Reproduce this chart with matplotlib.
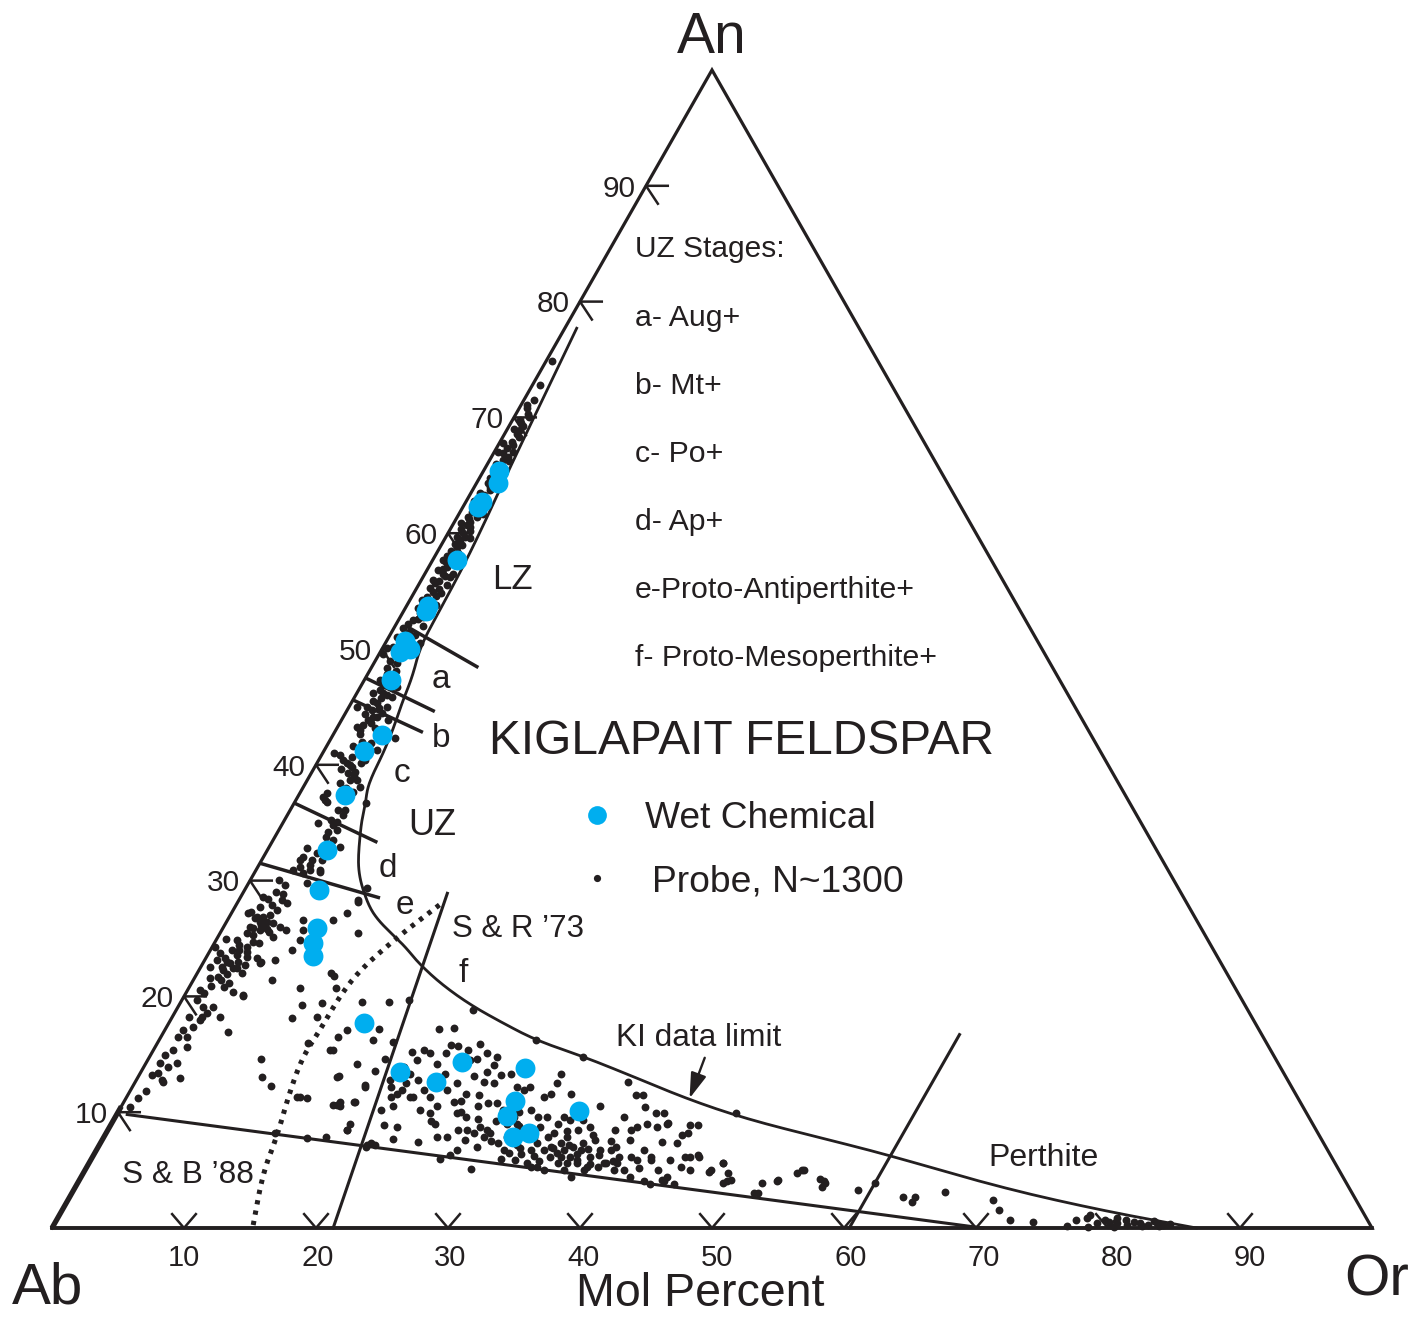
import numpy as np
import matplotlib
matplotlib.use("Agg")
import matplotlib.pyplot as plt

plt.rcParams['font.family'] = ['Liberation Sans', 'DejaVu Sans']

INK = '#231f20'
BLUE = '#00aeef'

# ---------------- data (An, Or) in mol percent ----------------
wet_chemical = [(65.4, 1.2), (64.3, 1.6), (62.7, 1.2), (62.3, 1.1), (57.7, 1.8), (53.7, 1.6),
                (53.3, 1.7), (50.7, 1.4), (50.0, 2.1), (49.7, 1.5), (47.3, 2.0), (42.6, 3.7),
                (41.2, 3.0), (37.4, 3.5), (32.6, 4.5), (29.2, 5.6), (25.9, 7.1), (24.6, 7.5),
                (23.5, 8.0), (17.7, 14.8), (13.5, 19.6), (12.6, 22.8), (14.3, 23.9), (13.8, 28.9),
                (11.0, 29.6), (9.7, 29.6), (7.9, 31.0), (8.2, 32.0), (10.1, 34.9)]

probe_band_upper = [(74.9, 0.4), (72.8, 0.6), (71.1, 0.45), (69.8, 0.55), (69.3, 1.0), (68.6, 0.9),
                    (67.9, 0.9), (68.9, 1.0), (67.4, 0.75), (66.6, 1.25), (66.3, 1.0), (67.0, 1.4),
                    (65.5, 1.6), (64.8, 0.75), (64.3, 0.9), (63.1, 0.9), (62.2, 1.1), (61.8, 0.9),
                    (61.4, 0.8), (61.4, 1.5), (60.5, 1.4), (60.4, 0.8), (59.7, 0.85), (59.7, 1.45),
                    (59.1, 0.95), (59.0, 1.55), (59.6, 1.85), (58.5, 1.0), (58.3, 1.6), (57.1, 1.4),
                    (56.5, 1.35), (56.2, 2.05), (55.9, 1.4), (55.7, 1.15), (55.5, 2.15), (54.9, 1.4),
                    (55.3, 0.95), (54.8, 2.1), (54.5, 1.15), (53.1, 1.3), (52.5, 1.1), (52.2, 0.85),
                    (51.8, 0.7), (52.0, 2.1), (51.0, 0.6), (50.5, 2.6), (67.8, 0.3), (67.0, 0.25),
                    (61.7, 1.8), (63.7, 1.3), (64.6, 1.4), (60.9, 0.5), (57.7, 0.8), (56.8, 0.85),
                    (56.5, 2.1), (49.6, 0.3), (49.0, 1.1), (48.4, 1.15), (48.8, 1.7), (50.2, 0.7),
                    (50.1, 0.3), (62.8, 0.6), (61.0, 1.2), (60.0, 1.1), (58.0, 1.3), (57.5, 1.1),
                    (56.0, 0.9), (54.0, 1.6), (53.5, 1.0), (53.8, 2.2), (52.8, 1.7), (70.3, 0.9),
                    (69.0, 0.5), (66.0, 0.6), (63.5, 0.7), (71.5, 0.8), (70.8, 0.6), (70.0, 1.1),
                    (69.5, 0.8), (68.3, 1.2), (67.6, 1.1), (66.9, 0.7), (66.2, 1.5), (65.8, 1.1),
                    (65.0, 1.0), (64.0, 1.2), (63.3, 1.1), (62.5, 0.9), (61.9, 1.4), (61.2, 1.0),
                    (60.7, 1.1), (60.2, 1.6), (59.4, 1.2), (58.8, 1.3), (58.0, 0.9), (57.4, 1.5),
                    (56.9, 1.2), (56.3, 1.6), (55.2, 1.7), (54.6, 1.8), (54.2, 0.9), (53.6, 1.4),
                    (53.0, 1.9), (52.6, 1.4), (51.5, 1.3), (51.2, 1.9), (50.8, 1.0)]

probe_band_mid = [(45.0, 1.35), (44.7, 1.9), (45.3, 2.0), (45.8, 2.0), (46.2, 2.0), (44.1, 2.3),
                  (43.9, 2.0), (43.4, 1.85), (43.0, 1.85), (43.25, 1.5), (45.0, 2.9), (45.85, 2.8),
                  (46.7, 2.8), (46.45, 1.6), (46.2, 1.2), (44.1, 2.6), (45.0, 0.6), (43.85, 3.5),
                  (44.45, 2.8), (40.15, 2.3), (39.8, 2.8), (39.4, 3.25), (39.3, 2.8), (38.7, 3.2),
                  (38.7, 3.75), (40.4, 1.85), (40.15, 3.3), (40.85, 1.4), (40.4, 3.5), (41.0, 0.9),
                  (36.95, 2.2), (37.6, 2.0), (36.1, 4.15), (36.7, 5.4), (38.1, 4.3), (37.65, 4.0),
                  (41.3, 4.0), (42.3, 4.8), (47.0, 2.4), (47.8, 1.5), (42.0, 2.5), (41.6, 2.0),
                  (49.4, 1.4), (48.1, 2.0), (47.3, 1.2), (46.9, 1.8), (46.0, 2.4), (45.5, 1.6),
                  (44.9, 2.3), (44.4, 1.5), (43.6, 2.4), (43.2, 2.9), (42.7, 2.0), (41.9, 3.2),
                  (41.4, 2.7), (40.7, 2.4), (40.0, 2.6), (39.6, 2.1), (39.0, 3.4), (38.4, 2.6),
                  (38.0, 3.3)]

probe_band_low = [(35.2, 3.5), (34.8, 3.9), (34.4, 4.4), (34.2, 3.8), (35.05, 4.1), (33.5, 4.5),
                  (33.75, 3.9), (32.9, 4.1), (32.4, 3.9), (32.8, 2.9), (32.0, 3.0), (31.8, 3.8),
                  (31.2, 3.2), (30.9, 4.85), (30.9, 4.1), (31.8, 4.55), (30.9, 2.8), (36.1, 3.6),
                  (35.7, 4.2), (35.0, 2.65), (32.9, 5.4), (37.2, 1.9), (36.8, 2.4), (36.95, 3.6),
                  (29.4, 9.2), (28.3, 9.0)]

probe_band_20_30 = [(30.05, 2.2), (29.6, 2.85), (31.8, 2.9), (30.65, 3.7), (31.35, 3.9), (30.75, 4.9),
                    (29.8, 4.4), (28.6, 1.7), (28.3, 3.3), (28.05, 3.8), (27.3, 1.4), (26.85, 2.1),
                    (26.4, 3.1), (26.0, 4.3), (25.7, 4.9), (26.6, 5.7), (25.7, 6.2), (24.85, 6.35),
                    (24.0, 6.2), (23.15, 5.3), (25.1, 4.2), (25.7, 2.9), (25.5, 2.0), (24.7, 2.9),
                    (24.85, 1.6), (24.0, 2.2), (23.4, 3.1), (22.95, 1.8), (22.45, 2.5), (22.3, 1.8),
                    (21.7, 1.7), (21.6, 1.2), (21.15, 2.8), (20.4, 3.5), (20.0, 4.5), (23.3, 3.9),
                    (22.9, 4.3), (25.0, 0.7), (26.0, 2.0), (27.45, 3.3), (27.2, 1.25), (26.75, 2.0),
                    (26.4, 2.55), (26.0, 3.1), (25.55, 3.7), (25.9, 2.3), (26.85, 2.55), (26.35, 3.6),
                    (24.25, 0.2), (23.75, 0.85), (23.3, 1.45), (22.9, 2.0), (22.45, 2.8), (22.0, 3.4),
                    (23.15, 0.95), (22.5, 0.7), (22.5, 1.6), (24.0, 1.6), (24.4, 2.0), (29.0, 2.5),
                    (28.8, 3.1), (28.4, 2.2), (27.9, 2.7), (27.7, 1.9), (27.0, 3.0), (26.2, 2.7),
                    (25.8, 3.4), (25.3, 2.6), (24.6, 3.4), (24.3, 2.6), (23.8, 2.9), (23.6, 2.2),
                    (23.0, 2.6), (22.7, 3.3), (21.9, 2.3), (21.4, 2.1), (20.9, 1.6), (20.3, 1.4),
                    (20.8, 2.6)]

probe_band_10_20 = [(20.55, 0.9), (19.7, 1.1), (19.1, 1.9), (18.2, 1.3), (17.1, 1.4), (16.5, 1.3),
                    (15.6, 2.4), (15.4, 1.5), (14.95, 1.1), (14.25, 1.05), (13.9, 1.8), (13.4, 1.3),
                    (12.8, 1.9), (13.2, 1.0), (14.25, 2.35), (16.5, 2.0), (17.35, 2.0), (17.95, 2.2),
                    (18.55, 2.5), (19.1, 2.65), (12.6, 2.1), (10.45, 0.7), (12.95, 3.2), (18.2, 2.3),
                    (18.2, 3.6), (16.9, 4.9), (20.1, 4.4), (11.8, 1.2), (11.2, 0.9)]

probe_field = [(28.15, 9.1), (27.2, 8.75), (26.6, 8.0), (25.5, 10.4), (22.0, 10.1), (20.7, 8.4),
               (21.4, 6.0), (23.0, 4.3), (20.7, 11.2), (19.25, 9.3), (19.45, 10.7), (18.1, 9.1),
               (18.2, 11.0), (16.5, 13.4), (16.0, 11.4), (15.35, 13.4), (14.6, 8.5), (13.05, 9.4),
               (13.05, 15.1), (17.1, 13.8), (11.3, 13.1), (12.25, 10.5), (11.3, 12.9), (11.25, 13.7),
               (10.6, 16.0), (10.9, 16.4), (7.8, 15.4), (7.85, 16.8), (8.2, 12.8), (12.35, 17.5),
               (10.9, 17.4), (8.45, 18.1), (7.15, 20.3), (7.15, 20.9)]

probe_central = [(21.8, 10.5), (15.4, 13.6), (13.1, 15.2), (10.6, 16.3), (8.5, 18.1), (19.5, 13.7),
                 (19.5, 15.8), (19.7, 17.2), (17.2, 20.7), (17.3, 21.8), (17.2, 16.2), (16.2, 16.2),
                 (16.1, 17.8), (14.6, 17.9), (15.2, 19.7), (15.4, 20.5), (15.1, 21.1), (15.1, 22.3),
                 (15.8, 22.3), (15.7, 22.9), (15.4, 23.8), (14.6, 24.9), (15.9, 24.5), (15.1, 25.4),
                 (14.1, 26.4), (14.8, 26.3), (14.2, 16.0), (13.6, 17.7), (12.8, 19.2), (12.2, 19.6),
                 (11.6, 20.3), (12.5, 20.6), (12.8, 21.3), (11.3, 21.7), (11.9, 22.2), (11.3, 23.0),
                 (11.9, 24.0), (13.3, 23.1), (12.5, 24.4), (11.0, 25.5), (11.6, 25.6), (13.1, 25.4),
                 (12.6, 26.4), (13.5, 26.2), (12.5, 27.2), (13.2, 27.4), (13.3, 28.1), (12.2, 29.1),
                 (11.9, 29.8), (12.2, 30.1), (11.3, 31.6), (11.6, 32.0), (13.3, 31.9), (12.5, 32.0),
                 (11.6, 33.5), (12.2, 17.6), (10.9, 17.5), (10.5, 16.6), (10.2, 19.8), (10.5, 20.6),
                 (10.2, 22.8), (9.9, 23.7), (10.5, 23.9), (9.9, 25.7), (9.6, 26.6), (10.5, 27.0),
                 (10.8, 27.6), (10.8, 28.3), (10.2, 29.1), (10.2, 31.2), (9.6, 32.0), (9.6, 32.7),
                 (9.0, 33.8), (9.6, 34.0), (9.3, 34.6), (8.5, 35.6), (9.3, 35.6), (8.7, 36.4),
                 (10.5, 36.3), (8.5, 38.4), (9.6, 38.5), (8.5, 39.6), (8.7, 40.0), (9.0, 40.6),
                 (8.7, 41.5), (9.9, 41.4), (9.0, 42.1), (7.3, 43.7), (8.2, 44.1), (8.9, 44.5),
                 (8.7, 21.8), (7.7, 22.0), (7.4, 24.0), (9.2, 24.1), (9.0, 24.5), (8.5, 26.5),
                 (7.6, 27.5), (8.2, 27.9), (7.9, 28.8), (8.2, 29.1), (7.3, 30.1), (6.7, 30.9),
                 (7.9, 30.5), (7.0, 28.7), (6.7, 27.3), (6.0, 26.4), (6.3, 27.0), (5.1, 29.2),
                 (5.9, 32.1), (6.4, 32.3), (6.7, 32.9), (7.3, 33.1), (6.7, 33.9), (6.1, 34.7),
                 (5.6, 35.5), (6.7, 35.4), (6.1, 36.2), (5.6, 37.0), (6.7, 36.7), (6.1, 37.7),
                 (5.3, 38.7), (5.6, 39.0), (6.7, 39.0), (5.6, 40.0), (5.0, 40.8), (6.1, 40.8),
                 (5.9, 41.4), (6.7, 41.5), (6.1, 42.3), (5.0, 43.4), (4.1, 44.3), (5.9, 43.9),
                 (5.3, 45.0), (6.1, 45.3), (6.3, 45.8), (5.0, 47.4), (5.6, 48.0), (4.1, 49.1),
                 (3.0, 52.0), (4.1, 52.9), (5.0, 54.5), (4.1, 56.4), (5.3, 33.6), (5.0, 34.8),
                 (5.0, 36.3), (4.4, 37.1), (5.0, 37.8), (5.0, 40.1), (4.4, 41.6), (4.1, 42.8),
                 (3.8, 43.4), (4.4, 44.4), (3.8, 45.2), (7.3, 20.5), (7.0, 20.3), (8.9, 20.7),
                 (9.0, 18.1), (9.0, 30.7), (8.5, 31.8), (7.9, 32.6), (8.7, 32.6), (7.9, 33.6),
                 (8.2, 33.9), (7.3, 34.9), (7.9, 35.1), (7.0, 36.0), (7.3, 36.6), (7.6, 37.3),
                 (6.7, 38.2), (5.6, 33.2), (5.3, 34.1), (7.0, 34.3), (6.1, 35.5), (5.6, 36.2),
                 (6.4, 36.6), (5.3, 37.9), (9.0, 30.0), (9.6, 30.2), (8.5, 28.7), (8.7, 28.1),
                 (8.5, 27.2), (7.9, 26.0), (7.9, 25.2), (11.3, 21.5), (11.9, 20.6), (11.3, 20.0),
                 (13.3, 20.5), (13.9, 19.7), (14.5, 20.4), (14.2, 22.1), (13.9, 24.2), (14.5, 24.4),
                 (18.8, 22.5), (16.2, 28.6), (14.8, 32.8), (12.6, 37.3), (11.5, 39.0), (9.9, 46.9),
                 (7.5, 29.5), (7.2, 31.6), (6.9, 32.0), (7.7, 31.2), (6.5, 31.4), (6.2, 33.4),
                 (6.0, 31.0), (5.8, 34.0), (6.9, 34.5), (6.5, 35.0), (7.2, 35.6), (6.8, 37.2),
                 (5.9, 36.8), (6.3, 38.3), (5.5, 38.0), (5.8, 39.6), (7.0, 39.2), (7.5, 38.6),
                 (8.0, 37.0), (8.4, 34.8), (10.0, 26.0), (10.9, 25.0), (11.5, 26.6), (9.4, 27.6),
                 (9.2, 29.0), (10.0, 30.4), (8.8, 31.0)]

probe_tail = [(11.5, 38.5), (10.45, 39.7), (9.9, 40.8), (9.1, 42.1), (8.0, 43.7), (8.9, 43.9),
              (7.4, 42.5), (5.9, 42.4), (6.1, 44.9), (5.0, 45.8), (7.6, 40.0), (6.1, 39.9),
              (5.6, 39.2), (5.2, 41.9), (4.15, 44.1), (6.1, 46.0), (4.8, 47.4), (5.6, 48.0),
              (4.75, 48.8), (4.15, 49.4), (3.9, 48.9), (3.9, 51.8), (3.0, 51.7), (4.15, 52.9),
              (4.75, 54.1), (5.0, 54.3), (4.2, 56.1), (3.9, 56.6), (3.5, 56.6), (3.3, 59.4),
              (3.9, 60.4), (2.7, 63.1), (2.25, 64.0), (2.7, 64.0), (3.1, 66.1), (2.4, 70.1),
              (1.55, 71.0), (0.7, 72.2), (0.5, 74.1), (0.2, 76.8), (0.7, 77.2), (0.86, 78.0),
              (1.1, 78.1), (0.7, 79.4), (0.26, 80.0), (0.43, 80.5), (0.26, 81.3), (0.43, 82.2),
              (0.26, 82.9), (0.43, 83.5), (0.26, 84.0), (0.35, 84.5), (0.1, 78.4), (0.1, 80.4),
              (0.5, 79.8), (0.7, 81.0), (0.5, 81.7), (0.2, 82.5), (0.6, 83.2), (0.2, 83.8),
              (0.4, 79.0), (0.9, 80.2)]

# boundary lines (An, Or)
ki_limit_an = [77.7, 72.6, 65.2, 61.1, 57.1, 53.1, 50.2, 47.6, 45.6, 43.6, 42.4, 40.85, 39.3, 38.0,
               36.7, 35.4, 34.1, 32.0, 30.7, 29.4, 27.7, 26.6, 25.5, 24.3, 22.9, 21.1, 19.3, 17.7,
               16.2, 14.8, 13.3, 11.05, 9.33, 7.6, 6.3, 3.5, 1.55, 0.0]
ki_limit_or = [0.9, 1.3, 1.9, 2.3, 2.6, 2.7, 2.8, 3.5, 3.8, 4.2, 4.4, 4.6, 4.7, 4.9,
               5.4, 5.8, 6.3, 7.2, 7.9, 8.8, 10.2, 11.4, 12.9, 14.6, 16.3, 18.9, 22.0, 25.3,
               28.6, 32.85, 36.9, 42.8, 48.2, 55.1, 60.2, 70.1, 78.6, 86.7]
sb88_solvus = [(9.8, 0.8), (0.0, 70.5)]
sb88_dotted_an = [27.9, 25.1, 22.3, 20.1, 17.1, 14.8, 11.9, 7.86, 4.75, 0.0]
sb88_dotted_or = [15.4, 13.6, 12.2, 11.8, 11.75, 11.6, 12.1, 13.1, 13.6, 15.2]
sr73_line = [(28.9, 15.5), (0.0, 21.3)]
perthite_line = [(16.7, 60.4), (0.0, 60.4)]
stage_lines = [((51.9, 1.0), (48.4, 8.1)), ((47.5, 0.0), (44.6, 6.7)), ((45.6, 0.0), (42.8, 6.7)),
               ((36.7, 0.0), (33.3, 8.0)), ((31.5, 0.0), (28.5, 10.6))]
arrow_tail = (14.7, 42.1)
arrow_head = (11.2, 42.7)

tick_values = [10, 20, 30, 40, 50, 60, 70, 80, 90]
stage_labels = ['a- Aug+', 'b- Mt+', 'c- Po+', 'd- Ap+', 'e-Proto-Antiperthite+', 'f- Proto-Mesoperthite+']

# ---------------- figure ----------------
FW, FH = 1413, 1317
fig = plt.figure(figsize=(FW / 100, FH / 100), dpi=100)
fig.patch.set_facecolor('white')
ax = fig.add_axes([52 / FW, (FH - 1228) / FH, 1320 / FW, 1158 / FH])
ax.set_xlim(0, 100)
ax.set_ylim(0, 100)
ax.axis('off')


def xy(an, orr):
    an = np.asarray(an, float)
    orr = np.asarray(orr, float)
    return orr + an / 2.0, an


def pts(lst):
    a = np.array(lst, float)
    return xy(a[:, 0], a[:, 1])


def smooth(x, y, n=3):
    # Chaikin corner cutting, only to render a drawn boundary smoothly
    x = np.asarray(x, float)
    y = np.asarray(y, float)
    for _ in range(n):
        qx, rx = 0.75 * x[:-1] + 0.25 * x[1:], 0.25 * x[:-1] + 0.75 * x[1:]
        qy, ry = 0.75 * y[:-1] + 0.25 * y[1:], 0.25 * y[:-1] + 0.75 * y[1:]
        x = np.concatenate([[x[0]], np.column_stack([qx, rx]).ravel(), [x[-1]]])
        y = np.concatenate([[y[0]], np.column_stack([qy, ry]).ravel(), [y[-1]]])
    return x, y


def ftext(x, y, s, **kw):
    fig.text(x / FW, 1 - y / FH, s, color=INK, **kw)


# triangle
tx, ty = xy([0, 0, 100, 0], [0, 100, 0, 0])
ax.plot(tx, ty, color=INK, lw=2.3, solid_joinstyle='miter', clip_on=False, zorder=2)
tx, ty = xy([0, 10.5], [0, 0])
ax.plot(tx, ty, color=INK, lw=3.8, solid_capstyle='butt', clip_on=False, zorder=2)
ax.plot([0, 100], [0, 0], color=INK, lw=2.7, clip_on=False, zorder=2)

# ticks on the An side
for a in tick_values:
    X0, Y0 = xy(a, 0)
    ax.plot([X0 + 1.65, X0, X0 + 0.9], [Y0, Y0, Y0 - 1.55], color=INK, lw=1.8,
            clip_on=False, zorder=2)
    ax.annotate(str(a), xy=(X0, Y0), xytext=(-7.5, -7.8), textcoords='offset points',
                ha='right', va='baseline', fontsize=21.5, color=INK)
# ticks on the Or side
for o in tick_values:
    X0, Y0 = xy(0, o)
    ax.plot([X0 - 0.9, X0, X0 + 0.9], [1.2, 0, 1.2], color=INK, lw=1.8, clip_on=False, zorder=2)
    ax.annotate(str(o), xy=(X0, Y0), xytext=(0.9 * (o - 10) / 10, -27.5),
                textcoords='offset points', ha='center', va='baseline', fontsize=21, color=INK)

# boundary lines
lx, ly = smooth(*xy(ki_limit_an, ki_limit_or))
ax.plot(lx, ly, color=INK, lw=2.0, zorder=2, clip_on=False)
for seg in (sb88_solvus, sr73_line, perthite_line):
    sx, sy = pts(seg)
    ax.plot(sx, sy, color=INK, lw=2.2, zorder=2, clip_on=False)
dx, dy = smooth(*xy(sb88_dotted_an, sb88_dotted_or))
ax.plot(dx, dy, color=INK, lw=3.6, linestyle=(0, (0.85, 1.25)), dash_capstyle='butt', zorder=2)
for p0, p1 in stage_lines:
    sx, sy = pts([p0, p1])
    ax.plot(sx, sy, color=INK, lw=2.5, solid_capstyle='butt', zorder=2)

ax.annotate('', xy=xy(*arrow_head), xytext=xy(*arrow_tail),
            arrowprops=dict(arrowstyle='-|>,head_length=0.7,head_width=0.22', color=INK, lw=1.7,
                            shrinkA=0, shrinkB=0, mutation_scale=22), zorder=3)

# probe points
probe = (probe_band_upper + probe_band_mid + probe_band_low + probe_band_20_30 +
         probe_band_10_20 + probe_field + probe_central + probe_tail)
px_, py_ = pts(probe)
ax.scatter(px_, py_, s=32, color=INK, lw=0, zorder=3, clip_on=False)
wx, wy = pts(wet_chemical)
ax.scatter(wx, wy, s=205, color=BLUE, lw=0, zorder=4)

# legend markers
ax.plot([597 / FW], [1 - 815 / FH], 'o', transform=fig.transFigure, ms=13.5, color=BLUE, mew=0,
        clip_on=False)
ax.plot([597 / FW], [1 - 878 / FH], 'o', transform=fig.transFigure, ms=5.2, color=INK, mew=0,
        clip_on=False)

# texts
ftext(712, 53, 'An', fontsize=41, ha='center', va='baseline')
ftext(48, 1304, 'Ab', fontsize=42, ha='center', va='baseline')
ftext(1377, 1295, 'Or', fontsize=42, ha='center', va='baseline')
ftext(700, 1306, 'Mol Percent', fontsize=33.5, ha='center', va='baseline')
ftext(742, 754, 'KIGLAPAIT FELDSPAR', fontsize=34.5, ha='center', va='baseline')
ftext(635, 257, 'UZ Stages:', fontsize=21.5, ha='left', va='baseline')
for i, s in enumerate(stage_labels):
    ftext(635, 325.5 + 68.2 * i, s, fontsize=21.8, ha='left', va='baseline')
ftext(512, 589, 'LZ', fontsize=25, ha='center', va='baseline')
ftext(432, 835, 'UZ', fontsize=26, ha='center', va='baseline')
for s, x, y in (('a', 441, 688.5), ('b', 441, 747), ('c', 402, 781.5), ('d', 388, 877),
                ('e', 405, 913.5), ('f', 463, 982)):
    ftext(x, y, s, fontsize=24, ha='center', va='baseline')
ftext(645, 828, 'Wet Chemical', fontsize=26.7, ha='left', va='baseline')
ftext(652, 891, 'Probe, N~1300', fontsize=26.8, ha='left', va='baseline')
ftext(452, 937, 'S & R \u201973', fontsize=22.5, ha='left', va='baseline')
ftext(122, 1183, 'S & B \u201988', fontsize=22.8, ha='left', va='baseline')
ftext(616, 1046, 'KI data limit', fontsize=22.8, ha='left', va='baseline')
ftext(988, 1166, 'Perthite', fontsize=23, ha='left', va='baseline')

fig.savefig('out.png', dpi=100, facecolor='white')
